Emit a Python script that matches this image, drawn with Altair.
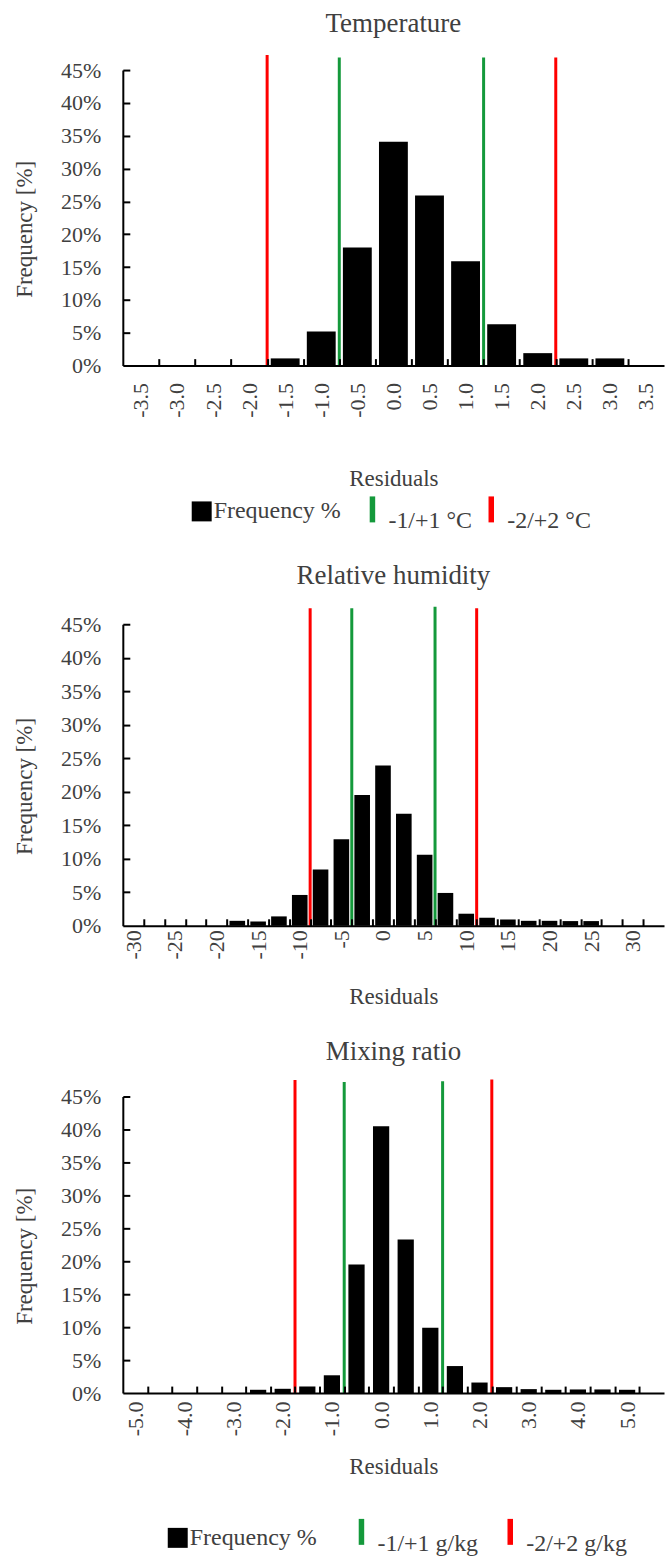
import altair as alt
import pandas as pd

FONT = "Liberation Serif"
INK = "#404040"
GREEN = "#14993b"
RED = "#ff0000"
PLOT_W = 542

# ---------------- Temperature residuals (°C) ----------------
# every bin is labelled by its upper edge
T_BINS = [-3.5, -3.0, -2.5, -2.0, -1.5, -1.0, -0.5, 0.0, 0.5, 1.0, 1.5, 2.0, 2.5, 3.0, 3.5]
T_FREQ = [0.0, 0.0, 0.0, 0.0, 1.1, 5.2, 18.0, 34.1, 25.9, 15.9, 6.3, 1.9, 1.1, 1.1, 0.0]
T_TICK_LABELS = [-3.5, -3.0, -2.5, -2.0, -1.5, -1.0, -0.5, 0.0, 0.5, 1.0, 1.5, 2.0, 2.5, 3.0, 3.5]
T_LIMITS = [-2, -1, 1, 2]
T_LIMIT_TOPS = [47.3, 46.9, 46.9, 46.9]
T_LIMIT_NAMES = ["-2/+2 °C", "-1/+1 °C", "-1/+1 °C", "-2/+2 °C"]
T_LEGEND = ["-1/+1 °C", "-2/+2 °C"]

# ---------------- Relative humidity residuals (%) ----------------
RH_BINS = [-30, -27.5, -25, -22.5, -20, -17.5, -15, -12.5, -10, -7.5, -5, -2.5, 0,
           2.5, 5, 7.5, 10, 12.5, 15, 17.5, 20, 22.5, 25, 27.5, 30, 32.5]
RH_FREQ = [0.0, 0.0, 0.0, 0.0, 0.0, 0.74, 0.64, 1.4, 4.6, 8.4, 12.9, 19.5, 23.9,
           16.7, 10.6, 4.9, 1.8, 1.2, 0.94, 0.74, 0.74, 0.7, 0.7, 0.0, 0.0, 0.0]
RH_TICK_LABELS = [-30, -25, -20, -15, -10, -5, 0, 5, 10, 15, 20, 25, 30]
RH_LIMITS = [-10, -5, 5, 10]
RH_LIMIT_TOPS = [47.4, 47.4, 47.6, 47.4]
RH_LIMIT_NAMES = ["-10/+10 %", "-5/+5 %", "-5/+5 %", "-10/+10 %"]
RH_LEGEND = ["-5/+5 %", "-10/+10 %"]

# ---------------- Mixing ratio residuals (g/kg) ----------------
MR_BINS = [-5.0, -4.5, -4.0, -3.5, -3.0, -2.5, -2.0, -1.5, -1.0, -0.5, 0.0,
           0.5, 1.0, 1.5, 2.0, 2.5, 3.0, 3.5, 4.0, 4.5, 5.0, 5.5]
MR_FREQ = [0.0, 0.0, 0.0, 0.0, 0.0, 0.5, 0.65, 1.0, 2.7, 19.5, 40.5,
           23.3, 9.9, 4.1, 1.6, 0.9, 0.6, 0.5, 0.55, 0.55, 0.5, 0.0]
MR_TICK_LABELS = [-5.0, -4.0, -3.0, -2.0, -1.0, 0.0, 1.0, 2.0, 3.0, 4.0, 5.0]
MR_LIMITS = [-2, -1, 1, 2]
MR_LIMIT_TOPS = [47.5, 47.2, 47.3, 47.6]
MR_LIMIT_NAMES = ["-2/+2 g/kg", "-1/+1 g/kg", "-1/+1 g/kg", "-2/+2 g/kg"]
MR_LEGEND = ["-1/+1 g/kg", "-2/+2 g/kg"]

Y_TICKS = [0, 5, 10, 15, 20, 25, 30, 35, 40, 45]

MINUS = "\u2212"


def panel(title, bins, freq, step, bar_frac, tick_labels, fmt, limits, tops, names,
          legend_names, height, label_pad, title_pad, title_offset, legends=None):
    half = step / 2
    bars = pd.DataFrame({"upper": bins, "freq": freq})
    bars["left"] = bars["upper"] - half - bar_frac * half
    bars["right"] = bars["upper"] - half + bar_frac * half
    bars["base"] = 0
    bars["series"] = "Frequency %"

    lines = pd.DataFrame({"limit": limits, "top": tops, "series": names})
    lines["base"] = 0

    xs = alt.Scale(domain=[bins[0] - step, bins[-1]], nice=False, zero=False, padding=0)
    ys = alt.Scale(domain=[0, 45], nice=False, padding=0)

    # labels sit in the middle of their bin, the axis text shows the upper edge
    centers = [v - half for v in tick_labels]
    x_label_axis = alt.Axis(
        title="Residuals", values=centers,
        labelExpr=f"replace(format(datum.value + {half}, '{fmt}'), '{MINUS}', '-')",
        labelAngle=270, labelFont=FONT, labelFontSize=22, labelColor=INK,
        labelPadding=label_pad, labelFlush=False, labelOverlap=False,
        ticks=False, tickSize=0, domain=True, domainColor="black", domainWidth=2,
        grid=False, titleFont=FONT, titleFontSize=23, titleColor=INK,
        titleFontWeight="normal", titlePadding=title_pad, zindex=1,
    )
    y_label_axis = alt.Axis(
        title="Frequency [%]", values=Y_TICKS, labelExpr="datum.value + '%'",
        labelFont=FONT, labelFontSize=22, labelColor=INK, labelPadding=22,
        ticks=False, tickSize=0, domain=True, domainColor="black", domainWidth=2,
        grid=False, titleFont=FONT, titleFontSize=23, titleColor=INK,
        titleFontWeight="normal", titleAngle=270, titleBaseline="middle",
        titleX=-98, titleY=height / 2 + 11, zindex=1,
    )
    # inward tick marks: bin edges along x, percent steps along y
    x_tick_axis = alt.Axis(
        orient="top", offset=-height, values=bins[:-1], labels=False, ticks=True,
        tickSize=7, tickWidth=2, tickColor="black", domain=False, grid=False,
        title=None, zindex=1,
    )
    y_tick_axis = alt.Axis(
        orient="right", offset=-PLOT_W, values=Y_TICKS[1:], labels=False, ticks=True,
        tickSize=7, tickWidth=2, tickColor="black", domain=False, grid=False,
        title=None, zindex=1,
    )

    if legends:
        (fx, fy), (sx, sy, col_pad) = legends
        fill_legend = alt.Legend(
            title=None, orient="none", legendX=fx, legendY=fy, direction="horizontal",
            symbolType="square", symbolSize=400, symbolStrokeWidth=0,
            labelFont=FONT, labelFontSize=24, labelColor=INK, labelOffset=0, padding=0,
        )
        stroke_legend = alt.Legend(
            title=None, orient="none", legendX=sx, legendY=sy, direction="horizontal",
            symbolType="M0,-1L0,1", symbolSize=676, symbolStrokeWidth=5.5,
            labelFont=FONT, labelFontSize=24, labelColor=INK, labelOffset=0,
            labelBaseline="top", columnPadding=col_pad, padding=0,
        )
    else:
        fill_legend = None
        stroke_legend = None

    bar_layer = alt.Chart(bars).transform_filter("datum.freq > 0").mark_bar().encode(
        x=alt.X("left:Q", scale=xs, axis=x_label_axis),
        x2="right:Q",
        y=alt.Y("freq:Q", scale=ys, axis=y_label_axis),
        y2="base:Q",
        fill=alt.Fill("series:N", scale=alt.Scale(domain=["Frequency %"], range=["black"]),
                      legend=fill_legend),
    )
    rule_layer = alt.Chart(lines).mark_rule(strokeWidth=3).encode(
        x=alt.X("limit:Q", scale=xs, axis=x_tick_axis),
        y=alt.Y("base:Q", scale=ys, axis=y_tick_axis),
        y2="top:Q",
        stroke=alt.Stroke("series:N", scale=alt.Scale(domain=legend_names, range=[GREEN, RED]),
                          legend=stroke_legend),
    )
    return (
        alt.layer(bar_layer, rule_layer)
        .resolve_axis(x="independent", y="independent")
        .properties(
            width=PLOT_W, height=height,
            title=alt.Title(title, font=FONT, fontSize=27, color=INK, fontWeight="normal",
                            offset=title_offset, frame="group", anchor="middle"),
        )
    )


temperature = panel("Temperature", T_BINS, T_FREQ, 0.5, 0.8, T_TICK_LABELS, ".1f",
                    T_LIMITS, T_LIMIT_TOPS, T_LIMIT_NAMES, T_LEGEND, 296, 17, 50, 15,
                    legends=((67, 430), (234, 424, 3)))
humidity = panel("Relative humidity", RH_BINS, RH_FREQ, 2.5, 0.75, RH_TICK_LABELS, "d",
                 RH_LIMITS, RH_LIMIT_TOPS, RH_LIMIT_NAMES, RH_LEGEND, 302, 4, 27, 15)
mixing = panel("Mixing ratio", MR_BINS, MR_FREQ, 0.5, 0.66, MR_TICK_LABELS, ".1f",
               MR_LIMITS, MR_LIMIT_TOPS, MR_LIMIT_NAMES, MR_LEGEND, 297, 8, 20, 12,
               legends=((43, 430), (223, 420, 16)))

chart = (
    alt.vconcat(temperature, humidity, mixing, spacing=27)
    .resolve_scale(fill="independent", stroke="independent")
    .properties(padding={"left": 13, "top": 8, "right": 0, "bottom": 0})
    .configure_view(stroke="transparent")
)

chart.save("out.html", embed_options={"renderer": "svg", "actions": False})
